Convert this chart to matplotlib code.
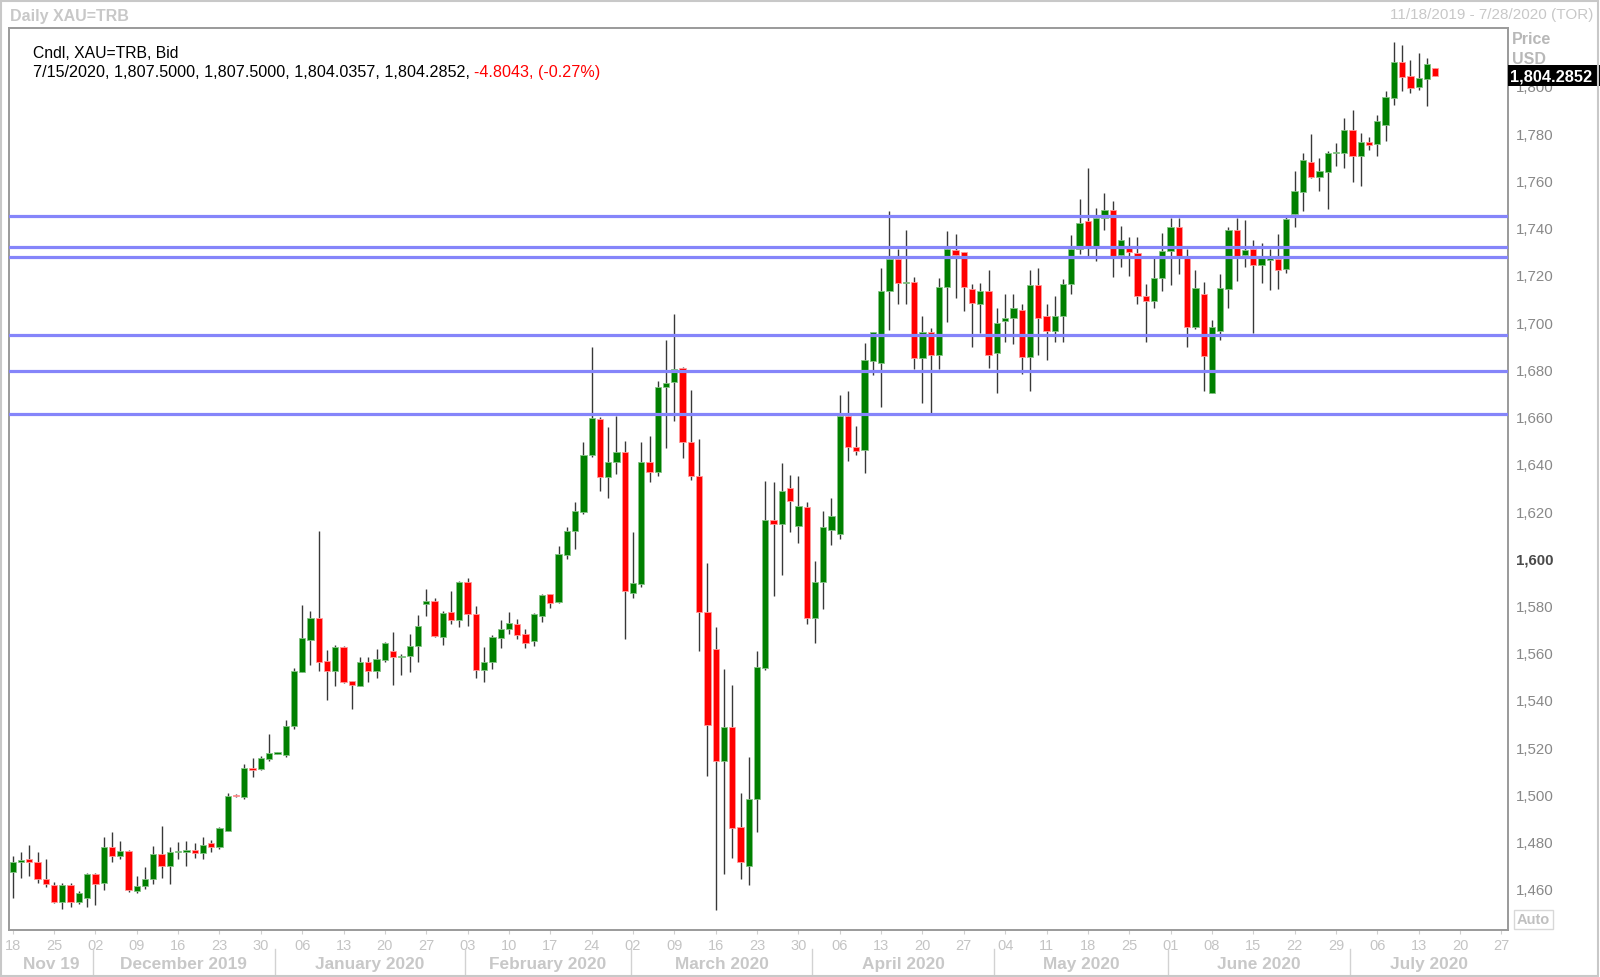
import matplotlib
matplotlib.use('Agg')
import matplotlib.pyplot as plt
import matplotlib.transforms as mtransforms
from matplotlib.patches import Rectangle
import numpy as np

plt.rcParams['font.family'] = ['Liberation Sans', 'DejaVu Sans']

# daily OHLC, one entry per weekday from 18 Nov 2019 to 15 Jul 2020
opens = [1467.2, 1471.6, 1472.7, 1471.4, 1464.2, 1461.8, 1454.6, 1461.8, 1454.3, 1456.1,
         1466.4, 1462.4, 1477.7, 1474.1, 1476.1, 1459.3, 1461.1, 1464.1, 1474.7, 1469.6,
         1475.5, 1475.8, 1476.5, 1475.2, 1479.4, 1477.7, 1484.7, 1499.8, 1499.1, 1511.1,
         1510.8, 1515.0, 1517.3, 1516.7, 1529.1, 1552.0, 1565.5, 1574.7, 1556.4, 1552.2,
         1562.6, 1548.2, 1546.1, 1556.1, 1552.3, 1556.9, 1560.9, 1558.0, 1558.8, 1562.7,
         1580.5, 1581.8, 1566.8, 1577.1, 1574.0, 1590.1, 1576.4, 1552.6, 1556.0, 1566.2,
         1570.1, 1572.2, 1568.0, 1565.0, 1575.7, 1584.7, 1581.4, 1601.5, 1611.7, 1619.7,
         1643.5, 1659.0, 1634.6, 1640.6, 1644.9, 1585.2, 1589.1, 1640.9, 1636.5, 1672.4,
         1674.5, 1680.5, 1649.1, 1635.0, 1577.1, 1561.6, 1514.0, 1528.7, 1486.1, 1469.9,
         1498.1, 1553.4, 1616.2, 1614.4, 1629.6, 1613.6, 1621.6, 1574.7, 1590.1, 1612.1,
         1610.3, 1660.4, 1647.3, 1646.0, 1683.7, 1682.6, 1713.1, 1726.7, 1716.4, 1717.1,
         1684.7, 1695.7, 1686.2, 1714.7, 1730.5, 1729.5, 1714.0, 1707.7, 1713.1, 1686.8,
         1700.6, 1701.6, 1705.3, 1685.1, 1715.8, 1702.7, 1696.4, 1702.4, 1716.2, 1731.0,
         1742.9, 1732.4, 1744.0, 1747.6, 1728.4, 1731.2, 1729.3, 1710.9, 1709.1, 1718.7,
         1730.2, 1740.1, 1727.7, 1697.8, 1711.9, 1670.0, 1696.1, 1714.0, 1739.0, 1728.4,
         1731.0, 1724.3, 1726.4, 1726.7, 1722.6, 1745.8, 1755.0, 1767.9, 1761.6, 1763.5,
         1771.6, 1771.6, 1781.3, 1770.5, 1776.1, 1775.4, 1783.3, 1794.9, 1810.0, 1804.0,
         1799.5, 1803.0, 1807.5]
highs = [1473.8, 1475.5, 1478.8, 1475.5, 1472.7, 1462.8, 1462.6, 1462.3, 1459.3, 1466.8,
         1466.6, 1482.1, 1484.3, 1480.4, 1476.3, 1465.4, 1469.2, 1478.3, 1486.8, 1477.9,
         1479.8, 1480.4, 1479.4, 1482.1, 1480.7, 1486.4, 1500.6, 1500.0, 1512.9, 1515.3,
         1516.4, 1525.6, 1518.0, 1531.5, 1553.4, 1580.4, 1577.6, 1611.4, 1561.3, 1563.4,
         1563.0, 1548.2, 1558.1, 1558.1, 1561.6, 1564.6, 1568.7, 1559.5, 1568.0, 1576.0,
         1587.0, 1583.0, 1577.8, 1586.0, 1590.5, 1591.5, 1579.7, 1562.3, 1567.5, 1574.0,
         1577.1, 1574.3, 1570.0, 1577.0, 1584.9, 1584.9, 1605.3, 1613.1, 1624.0, 1649.4,
         1689.3, 1659.7, 1655.5, 1660.1, 1649.8, 1611.0, 1649.4, 1651.9, 1675.2, 1692.6,
         1703.4, 1680.9, 1671.3, 1650.5, 1597.9, 1571.0, 1553.1, 1546.4, 1500.5, 1515.7,
         1560.9, 1632.5, 1632.2, 1640.2, 1635.3, 1634.9, 1624.0, 1599.0, 1619.9, 1625.5,
         1669.0, 1671.0, 1656.2, 1691.2, 1695.7, 1722.8, 1746.9, 1731.0, 1739.0, 1719.0,
         1702.7, 1697.4, 1718.7, 1738.4, 1737.4, 1729.8, 1716.2, 1716.6, 1722.1, 1705.8,
         1711.9, 1711.9, 1707.7, 1722.1, 1722.8, 1707.7, 1711.2, 1718.3, 1736.9, 1752.1,
         1765.4, 1748.2, 1754.7, 1751.1, 1740.6, 1735.9, 1735.9, 1716.2, 1727.0, 1737.6,
         1744.0, 1744.0, 1731.0, 1722.1, 1716.8, 1700.9, 1720.5, 1740.1, 1744.0, 1743.2,
         1734.8, 1733.4, 1731.0, 1737.3, 1745.0, 1763.9, 1771.5, 1779.6, 1769.5, 1772.3,
         1775.8, 1786.4, 1789.8, 1780.0, 1778.2, 1787.7, 1797.7, 1818.5, 1817.1, 1810.9,
         1813.8, 1811.8, 1807.5]
lows = [1456.1, 1464.8, 1465.6, 1462.4, 1461.0, 1453.9, 1451.5, 1452.2, 1453.6, 1452.4,
        1453.3, 1459.6, 1471.3, 1472.7, 1458.6, 1458.3, 1460.0, 1462.1, 1464.8, 1462.0,
        1472.7, 1469.9, 1473.0, 1472.7, 1475.5, 1476.9, 1484.4, 1499.0, 1498.1, 1507.3,
        1510.5, 1514.3, 1517.0, 1516.0, 1527.7, 1551.8, 1555.0, 1552.2, 1540.1, 1545.8,
        1547.2, 1536.2, 1546.0, 1547.8, 1549.5, 1556.2, 1546.4, 1550.4, 1551.7, 1556.2,
        1575.7, 1566.5, 1563.3, 1572.3, 1570.8, 1571.2, 1549.2, 1547.5, 1553.0, 1562.0,
        1568.0, 1565.8, 1562.0, 1563.0, 1572.8, 1579.0, 1581.0, 1599.6, 1604.0, 1618.8,
        1643.0, 1628.6, 1625.5, 1635.7, 1565.8, 1583.0, 1587.7, 1632.2, 1635.0, 1646.6,
        1658.3, 1642.3, 1633.2, 1560.6, 1507.6, 1451.1, 1466.1, 1473.0, 1464.2, 1461.7,
        1484.0, 1552.7, 1583.9, 1592.7, 1611.3, 1606.4, 1572.2, 1564.0, 1578.5, 1605.6,
        1608.2, 1641.1, 1643.6, 1636.0, 1677.7, 1663.9, 1696.7, 1707.7, 1707.7, 1680.2,
        1665.6, 1661.1, 1680.2, 1699.9, 1710.1, 1704.8, 1689.3, 1695.4, 1680.4, 1669.8,
        1691.4, 1690.9, 1678.0, 1671.0, 1686.2, 1684.1, 1691.4, 1691.7, 1712.0, 1728.8,
        1727.6, 1726.0, 1739.1, 1718.9, 1723.2, 1719.7, 1707.7, 1691.4, 1705.8, 1713.3,
        1715.8, 1720.5, 1689.3, 1697.1, 1670.8, 1670.0, 1692.2, 1706.0, 1717.5, 1723.3,
        1695.3, 1716.4, 1713.5, 1714.0, 1720.9, 1740.1, 1747.2, 1760.9, 1755.4, 1747.9,
        1766.0, 1765.4, 1759.1, 1757.4, 1772.9, 1770.5, 1776.8, 1791.9, 1797.7, 1796.8,
        1798.3, 1791.4, 1804.0357]
closes = [1471.6, 1472.4, 1471.3, 1464.1, 1462.0, 1454.6, 1461.8, 1454.3, 1458.2, 1466.4,
          1462.0, 1477.7, 1474.1, 1476.1, 1459.6, 1461.4, 1464.2, 1474.7, 1469.6, 1475.5,
          1476.1, 1476.1, 1475.4, 1478.8, 1477.7, 1485.7, 1499.2, 1499.2, 1511.1, 1510.5,
          1515.3, 1517.6, 1517.6, 1529.1, 1552.2, 1566.3, 1574.7, 1556.2, 1552.3, 1562.3,
          1547.8, 1546.4, 1556.1, 1552.3, 1557.2, 1564.3, 1558.0, 1558.8, 1563.0, 1571.2,
          1581.8, 1567.2, 1576.8, 1574.0, 1590.1, 1576.4, 1552.6, 1556.1, 1566.5, 1570.1,
          1572.6, 1567.7, 1564.0, 1576.4, 1584.5, 1581.1, 1601.8, 1611.7, 1619.9, 1643.7,
          1659.4, 1634.6, 1640.9, 1644.9, 1586.0, 1589.5, 1640.9, 1636.5, 1672.7, 1674.2,
          1680.2, 1649.1, 1635.0, 1577.1, 1529.4, 1514.0, 1528.7, 1485.8, 1471.3, 1498.1,
          1553.9, 1616.2, 1614.4, 1628.4, 1624.4, 1622.3, 1574.7, 1590.1, 1613.1, 1617.9,
          1660.4, 1647.0, 1645.6, 1684.1, 1695.7, 1713.3, 1726.7, 1716.4, 1716.8, 1684.7,
          1695.7, 1686.2, 1714.7, 1731.0, 1728.4, 1714.7, 1708.0, 1713.1, 1686.2, 1699.6,
          1701.6, 1705.8, 1685.1, 1715.8, 1701.6, 1696.4, 1702.7, 1716.3, 1731.0, 1742.0,
          1732.4, 1744.0, 1747.6, 1728.1, 1734.8, 1729.8, 1710.9, 1709.1, 1718.7, 1730.2,
          1740.1, 1728.1, 1697.8, 1714.3, 1685.8, 1698.1, 1714.3, 1739.0, 1728.1, 1730.5,
          1724.3, 1727.0, 1727.0, 1722.1, 1743.8, 1755.4, 1768.6, 1761.6, 1763.9, 1771.6,
          1772.2, 1781.3, 1770.5, 1776.4, 1775.1, 1785.3, 1795.2, 1810.0, 1803.9, 1799.0,
          1803.4, 1809.1, 1804.2852]

# horizontal support / resistance levels
levels = [1745.0, 1731.7, 1727.7, 1694.7, 1679.4, 1660.9]

# weekly tick labels (Mondays, every 5 trading days)
week_labels = ['18', '25', '02', '09', '16', '23', '30', '06', '13', '20', '27', '03', '10',
               '17', '24', '02', '09', '16', '23', '30', '06', '13', '20', '27', '04', '11',
               '18', '25', '01', '08', '15', '22', '29', '06', '13', '20', '27']
month_names = ['Nov 19', 'December 2019', 'January 2020', 'February 2020', 'March 2020',
               'April 2020', 'May 2020', 'June 2020', 'July 2020']
month_starts = [10, 32, 55, 75, 97, 119, 140, 162]   # index of first trading day
y_ticks = list(range(1460, 1801, 20))

header_black = '7/15/2020, 1,807.5000, 1,807.5000, 1,804.0357, 1,804.2852, '
header_red = '-4.8043, (-0.27%)'

W, H = 1600, 978
fig = plt.figure(figsize=(W / 100, H / 100), dpi=100)
ax = fig.add_axes([9 / W, 1 - 931 / H, 1499 / W, 902 / H])
xmin, xmax = -0.45, 180.8
ax.set_xlim(xmin, xmax)
ax.set_ylim(1442.6, 1824.5)

o = np.array(opens); h = np.array(highs); l = np.array(lows); c = np.array(closes)
x = np.arange(len(o))
up = c >= o
dn = ~up

ax.vlines(x, l, h, color='#383838', lw=1.0, zorder=2)
body = np.maximum(np.abs(c - o), 0.6)
ax.bar(x[up], body[up], bottom=np.minimum(o, c)[up], width=0.76, color='#008000',
       edgecolor='#86c386', linewidth=0.6, zorder=3)
ax.bar(x[dn], body[dn], bottom=np.minimum(o, c)[dn], width=0.76, color='#ff0000',
       edgecolor='#ff9a9a', linewidth=0.6, zorder=3)

for v in levels:
    ax.axhline(v, color='#8585fa', lw=2.3, zorder=4)

for s in ax.spines.values():
    s.set_color('#9a9a9a')
    s.set_linewidth(1.4)

# right price axis
ax.yaxis.tick_right()
ax.set_yticks(y_ticks)
ax.set_yticklabels([f'{v:,}' for v in y_ticks])
ax.tick_params(axis='y', length=0, pad=6, labelsize=10.8, labelcolor='#888888')
for lab, v in zip(ax.get_yticklabels(), y_ticks):
    if v == 1600:
        lab.set_fontweight('bold')
        lab.set_color('#4a4a4a')

# bottom date axis
ax.set_xticks(np.arange(0, 181, 5))
ax.set_xticklabels(week_labels)
ax.tick_params(axis='x', length=3, width=0.8, color='#cfcfcf', pad=3, labelsize=10.5,
               labelcolor='#c4c4c4')

trans = mtransforms.blended_transform_factory(ax.transData, ax.transAxes)
bounds = [xmin] + [m - 0.3 for m in month_starts] + [xmax]
for i, name in enumerate(month_names):
    ax.text((bounds[i] + bounds[i + 1]) / 2, -0.0375, name, transform=trans, ha='center',
            va='center', fontsize=12.4, fontweight='bold', color='#c8c8c8', clip_on=False)
for b in bounds[1:-1]:
    ax.plot([b, b], [-0.021, -0.05], transform=trans, color='#d2d2d2', lw=1, clip_on=False)

# header texts
fig.text(10 / W, 1 - 16 / H, 'Daily XAU=TRB', fontsize=11.5, fontweight='bold',
         color='#c8c8c8', va='center')
fig.text(1593 / W, 1 - 15 / H, '11/18/2019 - 7/28/2020 (TOR)', fontsize=11,
         color='#c8c8c8', va='center', ha='right')
fig.text(33 / W, 1 - 53 / H, 'Cndl, XAU=TRB, Bid', fontsize=11.3, color='black', va='center')
t1 = fig.text(33 / W, 1 - 73 / H, header_black, fontsize=11.6, color='black', va='center')
fig.canvas.draw()
bb = t1.get_window_extent()
fig.text(bb.x1 / W, 1 - 73 / H, header_red, fontsize=11.6, color='#ff0000', va='center')

fig.text(1512 / W, 1 - 39 / H, 'Price', fontsize=11.5, fontweight='bold', color='#b8b8b8',
         va='center')
fig.text(1512 / W, 1 - 60 / H, 'USD', fontsize=11.5, fontweight='bold', color='#b8b8b8',
         va='center')

# last price tag
tag_y = ax.transData.transform((0, closes[-1]))[1]
fig.patches.append(Rectangle((1508 / W, (tag_y - 10.5) / H), 92 / W, 21 / H,
                             transform=fig.transFigure, facecolor='black', edgecolor='none',
                             zorder=5))
fig.text(1510 / W, tag_y / H, f'{closes[-1]:,.4f}', fontsize=11.8, fontweight='bold',
         color='white', va='center', zorder=6)

# "Auto" button
fig.patches.append(Rectangle((1514 / W, 1 - 930 / H), 39 / W, 19 / H, transform=fig.transFigure,
                             facecolor='white', edgecolor='#d8d8d8', lw=1, zorder=5))
fig.text(1533.5 / W, 1 - 920.5 / H, 'Auto', fontsize=10.5, fontweight='bold', color='#c0c0c0',
         ha='center', va='center', zorder=6)

# outer frame
fig.patches.append(Rectangle((0.0008, 0.001), 0.998, 0.997, transform=fig.transFigure,
                             fill=False, edgecolor='#c8c8c8', lw=1.5, zorder=5))

fig.savefig('out.png', dpi=100)
